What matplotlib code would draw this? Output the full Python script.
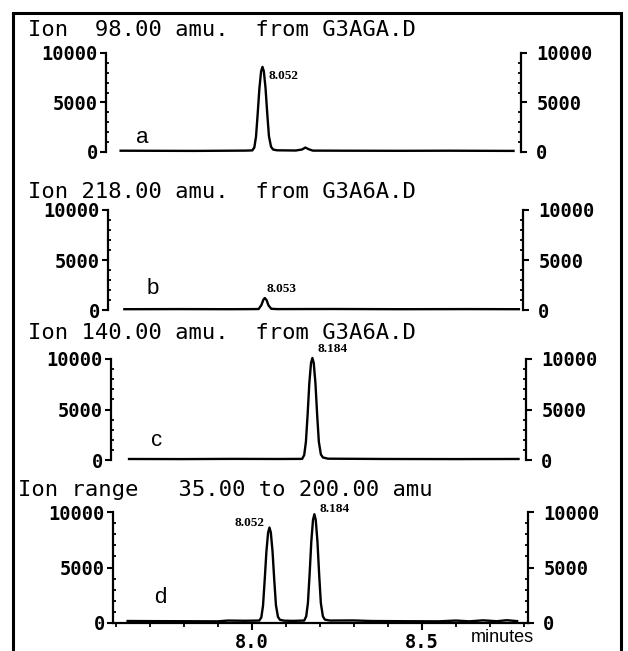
import matplotlib
matplotlib.use("Agg")
import matplotlib.pyplot as plt
from matplotlib.patches import Rectangle
from matplotlib.ticker import FixedLocator, MultipleLocator

# --- data ---
titles = [
    "Ion  98.00 amu.  from G3AGA.D",
    "Ion 218.00 amu.  from G3A6A.D",
    "Ion 140.00 amu.  from G3A6A.D",
    "Ion range   35.00 to 200.00 amu",
]
letters = ["a", "b", "c", "d"]

time_a = [7.635, 7.75, 7.85, 7.95, 8.00, 8.022, 8.028, 8.033, 8.038, 8.043,
          8.048, 8.052, 8.056, 8.061, 8.066, 8.071, 8.077, 8.083, 8.095, 8.15,
          8.168, 8.178, 8.188, 8.20, 8.30, 8.45, 8.60, 8.79]
int_a = [130, 120, 110, 130, 140, 160, 450, 1550, 3900, 6450,
         8150, 8600, 8150, 6450, 3900, 1600, 550, 250, 170, 150,
         250, 450, 280, 140, 130, 120, 130, 110]

time_b = [7.64, 7.80, 7.95, 8.02, 8.035, 8.043, 8.049, 8.053, 8.058, 8.064,
          8.072, 8.09, 8.25, 8.45, 8.65, 8.80]
int_b = [80, 90, 80, 90, 100, 500, 1050, 1200, 1000, 450,
         120, 90, 100, 80, 90, 80]

time_c = [7.645, 7.80, 7.95, 8.08, 8.154, 8.160, 8.165, 8.170, 8.175, 8.180,
          8.184, 8.188, 8.193, 8.198, 8.203, 8.209, 8.215, 8.23, 8.40, 8.60,
          8.79]
int_c = [100, 90, 110, 100, 110, 500, 1800, 4500, 7600, 9600,
         10100, 9600, 7600, 4500, 1800, 550, 250, 130, 100, 90,
         100]

time_d = [7.635, 7.70, 7.80, 7.90, 7.93, 7.98, 8.022, 8.028, 8.033, 8.038,
          8.043, 8.048, 8.052, 8.056, 8.061, 8.066, 8.071, 8.077, 8.083, 8.095,
          8.12, 8.154, 8.160, 8.165, 8.170, 8.175, 8.180, 8.184, 8.188, 8.193,
          8.198, 8.203, 8.209, 8.215, 8.23, 8.30, 8.35, 8.45, 8.55, 8.60,
          8.64, 8.68, 8.72, 8.75, 8.78]
int_d = [180, 170, 160, 150, 220, 200, 220, 500, 1550, 3900,
         6450, 8150, 8600, 8150, 6450, 3900, 1600, 550, 280, 210,
         190, 220, 600, 1800, 4400, 7350, 9300, 9800, 9300, 7350,
         4400, 1800, 600, 300, 220, 230, 180, 160, 150, 220,
         150, 240, 160, 250, 170]

times = [time_a, time_b, time_c, time_d]
intensities = [int_a, int_b, int_c, int_d]

# peak labels: (panel, text, time, intensity, alignment)
peak_labels = [
    (0, "8.052", 8.070, 7700, "left"),
    (1, "8.053", 8.058, 2100, "left"),
    (2, "8.184", 8.200, 11000, "left"),
    (3, "8.052", 8.038, 9000, "right"),
    (3, "8.184", 8.200, 10300, "left"),
]

y_ticks = [0, 5000, 10000]
y_tick_labels = ["0", "5000", "10000"]
x_ticks = [8.0, 8.5]
x_tick_labels = ["8.0", "8.5"]

# --- layout in pixels (left, top, bottom) ---
W, H = 628, 651
boxes = [(106, 53, 152), (108, 210, 310), (111, 359, 460), (113, 512, 623)]
title_pos = [(28, 30), (28, 192), (28, 333), (18, 490)]
letter_pos = [(7.70, 1500), (7.724, 2200), (7.726, 1900), (7.732, 2300)]

plt.rcParams["font.family"] = "DejaVu Sans Mono"
plt.rcParams["font.weight"] = "bold"

fig = plt.figure(figsize=(W / 100, H / 100), dpi=100)

for i, (left, top, bottom) in enumerate(boxes):
    ax = fig.add_axes([left / W, 1 - bottom / H, 415 / W, (bottom - top) / H])
    ax.plot(times[i], intensities[i], color="black", lw=1.7, clip_on=False,
            solid_joinstyle="round")
    ax.set_xlim(7.592, 8.812)
    ax.set_ylim(0, 10000)

    ax.spines["top"].set_visible(False)
    ax.spines["right"].set_visible(False)
    for s in ax.spines.values():
        s.set_linewidth(1.6)

    ax.yaxis.set_major_locator(FixedLocator(y_ticks))
    ax.set_yticklabels(y_tick_labels)
    ax.yaxis.set_minor_locator(MultipleLocator(1000))
    ax.tick_params(axis="y", which="major", direction="out", length=4, width=1.5,
                   labelsize=13.5, pad=2)
    ax.tick_params(axis="y", which="minor", direction="in", length=2.5, width=1.3)

    # right-hand intensity scale
    sec = ax.secondary_yaxis("right")
    sec.yaxis.set_major_locator(FixedLocator(y_ticks))
    sec.set_yticklabels(y_tick_labels)
    sec.yaxis.set_minor_locator(MultipleLocator(1000))
    sec.spines["right"].set_linewidth(1.6)
    sec.tick_params(which="major", direction="out", length=4, width=1.5,
                    labelsize=13.5, pad=7)
    sec.tick_params(which="minor", direction="in", length=2.5, width=1.3)

    if i < 3:
        ax.spines["bottom"].set_visible(False)
        ax.tick_params(axis="x", which="both", bottom=False, labelbottom=False)
    else:
        ax.xaxis.set_major_locator(FixedLocator(x_ticks))
        ax.set_xticklabels(x_tick_labels)
        ax.xaxis.set_minor_locator(MultipleLocator(0.1))
        ax.tick_params(axis="x", which="major", direction="out", length=5, width=1.5,
                       labelsize=13.5, pad=2)
        ax.tick_params(axis="x", which="minor", direction="out", length=3, width=1.3)

    ax.text(letter_pos[i][0], letter_pos[i][1], letters[i], family="Liberation Sans",
            weight="normal", fontsize=16, ha="center", va="center")

    for p, txt, t, y, ha in peak_labels:
        if p == i:
            ax.text(t, y, txt, family="Liberation Serif", weight="bold",
                    fontsize=9.5, ha=ha, va="center")

    tx, ty = title_pos[i]
    fig.text(tx / W, 1 - ty / H, titles[i], weight="normal", fontsize=16,
             ha="left", va="center")

fig.text(502 / W, 1 - 637 / H, "minutes", family="Liberation Sans", weight="normal",
         fontsize=13, ha="center", va="center")

# outer frame of the printout (bottom edge runs off the page)
fig.add_artist(Rectangle((13 / W, -0.05), (621 - 13) / W, 1.05 - 13 / H,
                         transform=fig.transFigure, fill=False, lw=2.2,
                         edgecolor="black"))

fig.savefig("out.png", dpi=100, facecolor="white")
